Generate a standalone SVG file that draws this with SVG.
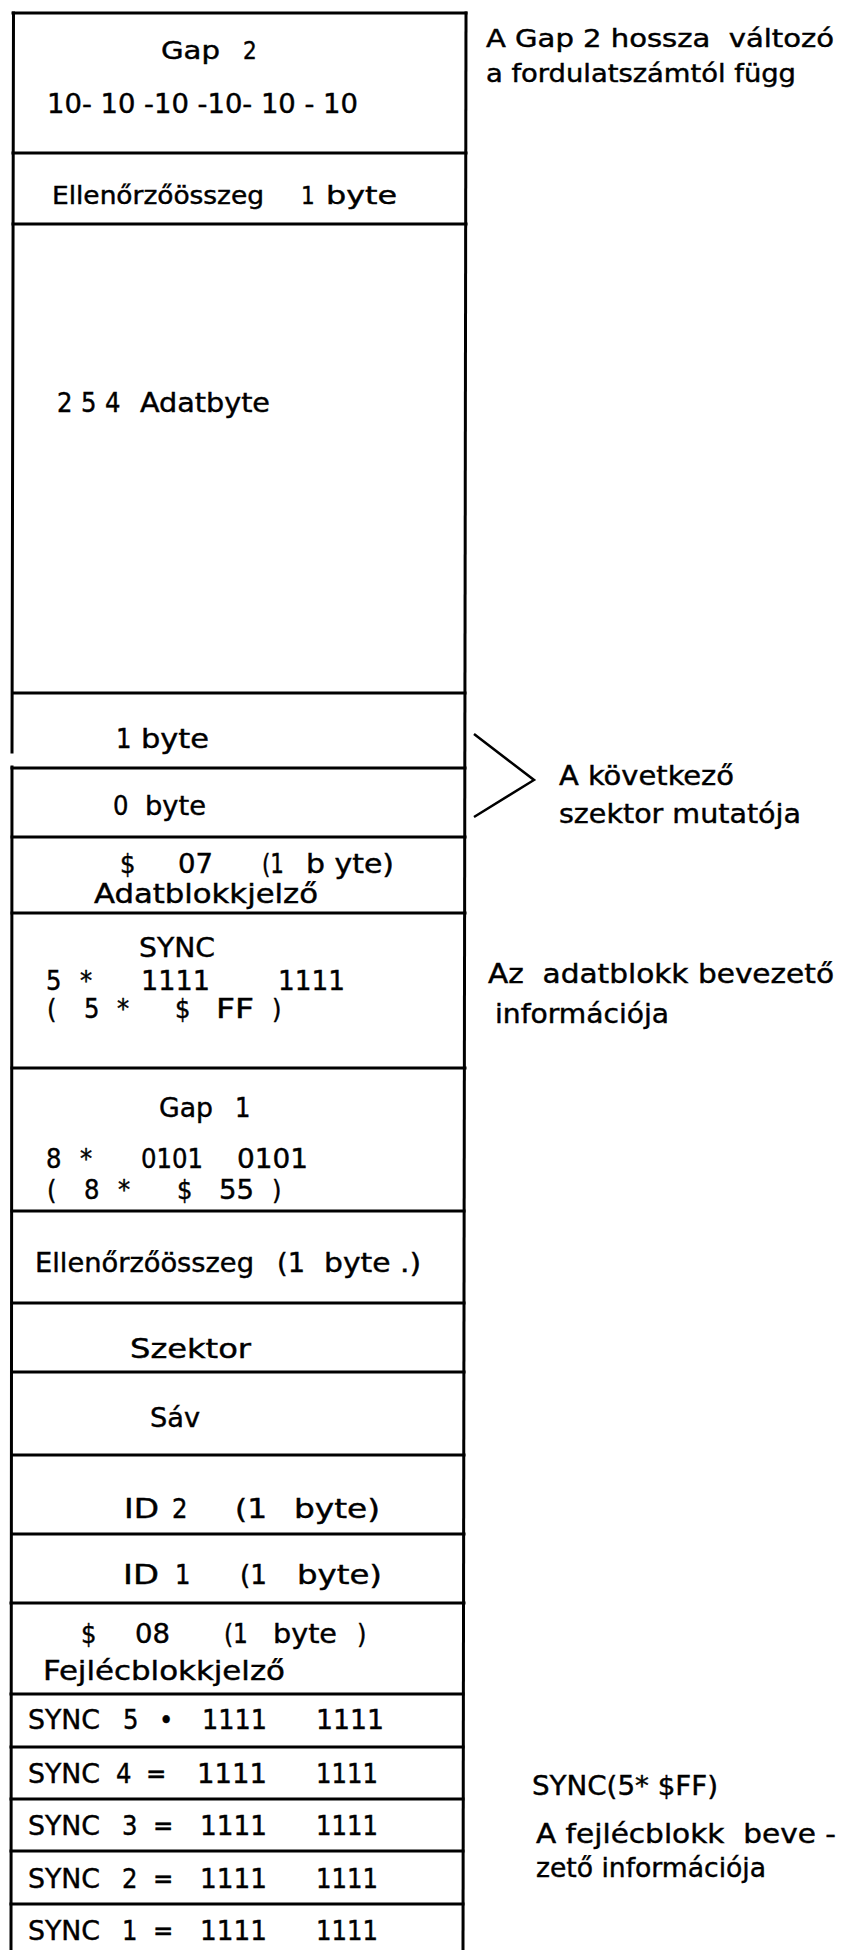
<svg xmlns="http://www.w3.org/2000/svg" width="842" height="1950" viewBox="0 0 842 1950" xml:space="preserve">
<style>
text{font-family:"DejaVu Sans Condensed","DejaVu Sans","Liberation Sans",sans-serif;font-stretch:condensed;fill:#000;stroke:#000;stroke-width:0.4;white-space:pre}
.s{font-size:24px}
.m{font-size:27px}
.ln{stroke:#000;stroke-width:3;fill:none;stroke-linecap:square}
.br{stroke:#000;stroke-width:2.5;fill:none}
</style>
<rect width="842" height="1950" fill="#fff"/>
<g id="frame">
<line class="ln" x1="13" y1="13" x2="466" y2="13"/>
<polyline class="ln" points="13.5,13 12,752"/>
<polyline class="ln" points="12,767 11,1950"/>
<polyline class="ln" points="466,13 463,1950"/>
</g>
<g id="dividers">
<line class="ln" x1="13" y1="153" x2="466" y2="153"/>
<line class="ln" x1="13" y1="224" x2="466" y2="224"/>
<line class="ln" x1="13" y1="693" x2="465" y2="693"/>
<line class="ln" x1="12" y1="768" x2="465" y2="768"/>
<line class="ln" x1="12" y1="837" x2="465" y2="837"/>
<line class="ln" x1="12" y1="913" x2="465" y2="913"/>
<line class="ln" x1="12" y1="1068" x2="465" y2="1068"/>
<line class="ln" x1="12" y1="1211" x2="464" y2="1211"/>
<line class="ln" x1="12" y1="1303" x2="464" y2="1303"/>
<line class="ln" x1="12" y1="1372" x2="464" y2="1372"/>
<line class="ln" x1="12" y1="1455" x2="464" y2="1455"/>
<line class="ln" x1="12" y1="1534" x2="464" y2="1534"/>
<line class="ln" x1="11" y1="1603" x2="464" y2="1603"/>
<line class="ln" x1="11" y1="1694" x2="463" y2="1694"/>
<line class="ln" x1="11" y1="1747" x2="463" y2="1747"/>
<line class="ln" x1="11" y1="1799" x2="463" y2="1799"/>
<line class="ln" x1="11" y1="1851" x2="463" y2="1851"/>
<line class="ln" x1="11" y1="1904" x2="463" y2="1904"/>
</g>
<g id="gap2">
<text class="s" x="161" y="59" textLength="59" lengthAdjust="spacingAndGlyphs">Gap</text><text class="s" x="243" y="59">2</text>
<text class="m" x="47" y="113" textLength="311" lengthAdjust="spacingAndGlyphs">10- 10 -10 -10- 10 - 10</text>
</g>
<g id="checksum2">
<text class="s" x="52" y="204" textLength="212" lengthAdjust="spacingAndGlyphs">Ellenőrzőösszeg</text><text class="s" x="301" y="204">1</text><text class="s" x="326" y="204" textLength="71" lengthAdjust="spacingAndGlyphs">byte</text>
</g>
<g id="data">
<text class="m" x="57" y="412">2</text><text class="m" x="81" y="412">5</text><text class="m" x="105" y="412">4</text><text class="m" x="140" y="412" textLength="130" lengthAdjust="spacingAndGlyphs">Adatbyte</text>
</g>
<g id="byte1"><text class="m" x="116" y="748">1</text><text class="m" x="141" y="748" textLength="68" lengthAdjust="spacingAndGlyphs">byte</text></g>
<g id="byte0"><text class="m" x="113" y="815">0</text><text class="m" x="145" y="815" textLength="61" lengthAdjust="spacingAndGlyphs">byte</text></g>
<g id="datamark">
<text class="m" x="120" y="873">$</text><text class="m" x="178" y="873" textLength="35" lengthAdjust="spacingAndGlyphs">07</text><text class="m" x="262" y="873" textLength="22" lengthAdjust="spacingAndGlyphs">(1</text><text class="m" x="306" y="873" textLength="88" lengthAdjust="spacingAndGlyphs">b yte)</text>
<text class="m" x="94" y="903" textLength="224" lengthAdjust="spacingAndGlyphs">Adatblokkjelző</text>
</g>
<g id="datasync">
<text class="m" x="139" y="957" textLength="76" lengthAdjust="spacingAndGlyphs">SYNC</text>
<text class="m" x="46" y="990">5</text><text class="m" x="80" y="990">*</text><text class="m" x="141" y="990" textLength="69" lengthAdjust="spacingAndGlyphs">1111</text><text class="m" x="278" y="990" textLength="67" lengthAdjust="spacingAndGlyphs">1111</text>
<text class="m" x="47" y="1018">(</text><text class="m" x="84" y="1018">5</text><text class="m" x="117" y="1018">*</text><text class="m" x="175" y="1018">$</text><text class="m" x="216" y="1018" textLength="38" lengthAdjust="spacingAndGlyphs">FF</text><text class="m" x="272" y="1018">)</text>
</g>
<g id="gap1">
<text class="m" x="159" y="1117" textLength="54" lengthAdjust="spacingAndGlyphs">Gap</text><text class="m" x="235" y="1117">1</text>
<text class="m" x="46" y="1168">8</text><text class="m" x="80" y="1168">*</text><text class="m" x="141" y="1168" textLength="62" lengthAdjust="spacingAndGlyphs">0101</text><text class="m" x="237" y="1168" textLength="71" lengthAdjust="spacingAndGlyphs">0101</text>
<text class="m" x="47" y="1199">(</text><text class="m" x="84" y="1199">8</text><text class="m" x="118" y="1199">*</text><text class="m" x="177" y="1199">$</text><text class="m" x="219" y="1199" textLength="35" lengthAdjust="spacingAndGlyphs">55</text><text class="m" x="272" y="1199">)</text>
</g>
<g id="checksum1">
<text class="m" x="35" y="1272" textLength="219" lengthAdjust="spacingAndGlyphs">Ellenőrzőösszeg</text><text class="m" x="277" y="1272" textLength="28" lengthAdjust="spacingAndGlyphs">(1</text><text class="m" x="324" y="1272" textLength="97" lengthAdjust="spacingAndGlyphs">byte .)</text>
</g>
<g id="sector"><text class="m" x="130" y="1358" textLength="121" lengthAdjust="spacingAndGlyphs">Szektor</text></g>
<g id="track"><text class="m" x="150" y="1427" textLength="50" lengthAdjust="spacingAndGlyphs">Sáv</text></g>
<g id="id2"><text class="m" x="124" y="1518" textLength="35" lengthAdjust="spacingAndGlyphs">ID</text><text class="m" x="172" y="1518">2</text><text class="m" x="235" y="1518" textLength="32" lengthAdjust="spacingAndGlyphs">(1</text><text class="m" x="294" y="1518" textLength="86" lengthAdjust="spacingAndGlyphs">byte)</text></g>
<g id="id1"><text class="m" x="123" y="1584" textLength="36" lengthAdjust="spacingAndGlyphs">ID</text><text class="m" x="175" y="1584">1</text><text class="m" x="240" y="1584" textLength="27" lengthAdjust="spacingAndGlyphs">(1</text><text class="m" x="297" y="1584" textLength="85" lengthAdjust="spacingAndGlyphs">byte)</text></g>
<g id="headermark">
<text class="m" x="81" y="1643">$</text><text class="m" x="135" y="1643" textLength="35" lengthAdjust="spacingAndGlyphs">08</text><text class="m" x="224" y="1643" textLength="24" lengthAdjust="spacingAndGlyphs">(1</text><text class="m" x="273" y="1643" textLength="64" lengthAdjust="spacingAndGlyphs">byte</text><text class="m" x="357" y="1643">)</text>
<text class="m" x="43" y="1680" textLength="242" lengthAdjust="spacingAndGlyphs">Fejlécblokkjelző</text>
</g>
<g id="sync5"><text class="m" x="28" y="1729" textLength="72" lengthAdjust="spacingAndGlyphs">SYNC</text><text class="m" x="123" y="1729">5</text><text class="m" x="159" y="1729">•</text><text class="m" x="202" y="1729" textLength="65" lengthAdjust="spacingAndGlyphs">1111</text><text class="m" x="316" y="1729" textLength="68" lengthAdjust="spacingAndGlyphs">1111</text></g>
<g id="sync4"><text class="m" x="28" y="1783" textLength="72" lengthAdjust="spacingAndGlyphs">SYNC</text><text class="m" x="116" y="1783">4</text><text class="m" x="146" y="1783" font-size="20">=</text><text class="m" x="197" y="1783" textLength="70" lengthAdjust="spacingAndGlyphs">1111</text><text class="m" x="316" y="1783" textLength="62" lengthAdjust="spacingAndGlyphs">1111</text></g>
<g id="sync3"><text class="m" x="28" y="1835" textLength="72" lengthAdjust="spacingAndGlyphs">SYNC</text><text class="m" x="122" y="1835">3</text><text class="m" x="153" y="1835" font-size="20">=</text><text class="m" x="200" y="1835" textLength="67" lengthAdjust="spacingAndGlyphs">1111</text><text class="m" x="316" y="1835" textLength="62" lengthAdjust="spacingAndGlyphs">1111</text></g>
<g id="sync2"><text class="m" x="28" y="1888" textLength="72" lengthAdjust="spacingAndGlyphs">SYNC</text><text class="m" x="122" y="1888">2</text><text class="m" x="153" y="1888" font-size="20">=</text><text class="m" x="200" y="1888" textLength="67" lengthAdjust="spacingAndGlyphs">1111</text><text class="m" x="316" y="1888" textLength="62" lengthAdjust="spacingAndGlyphs">1111</text></g>
<g id="sync1"><text class="m" x="28" y="1940" textLength="72" lengthAdjust="spacingAndGlyphs">SYNC</text><text class="m" x="122" y="1940">1</text><text class="m" x="153" y="1940" font-size="20">=</text><text class="m" x="200" y="1940" textLength="67" lengthAdjust="spacingAndGlyphs">1111</text><text class="m" x="316" y="1940" textLength="62" lengthAdjust="spacingAndGlyphs">1111</text></g>
<g id="note-gap2"><text class="s" x="486" y="47" textLength="348" lengthAdjust="spacingAndGlyphs">A Gap 2 hossza  változó</text><text class="s" x="486" y="82" textLength="310" lengthAdjust="spacingAndGlyphs">a fordulatszámtól függ</text></g>
<g id="note-pointer"><text class="m" x="559" y="785" textLength="175" lengthAdjust="spacingAndGlyphs">A következő</text><text class="m" x="559" y="823" textLength="242" lengthAdjust="spacingAndGlyphs">szektor mutatója</text></g>
<g id="note-datablock"><text class="m" x="488" y="983" textLength="346" lengthAdjust="spacingAndGlyphs">Az  adatblokk bevezető</text><text class="m" x="495" y="1023" textLength="174" lengthAdjust="spacingAndGlyphs">információja</text></g>
<g id="note-header"><text class="m" x="532" y="1795" textLength="186" lengthAdjust="spacingAndGlyphs">SYNC(5* $FF)</text><text class="m" x="536" y="1843" textLength="300" lengthAdjust="spacingAndGlyphs">A fejlécblokk  beve -</text><text class="m" x="536" y="1877" textLength="230" lengthAdjust="spacingAndGlyphs">zető információja</text></g>
<g id="connectors"><polyline class="br" points="474,734 534,780 474,817"/></g>
</svg>
